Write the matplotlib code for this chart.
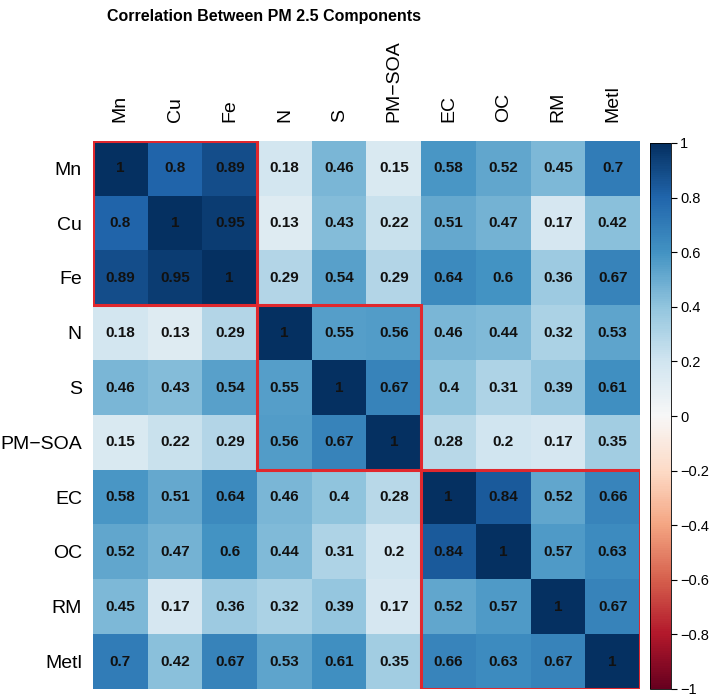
import numpy as np
import matplotlib
matplotlib.use("Agg")
import matplotlib.pyplot as plt
from matplotlib.patches import Rectangle

plt.rcParams['font.family'] = ['Liberation Sans', 'DejaVu Sans']

labels = ["Mn", "Cu", "Fe", "N", "S", "PM\u2212SOA", "EC", "OC", "RM", "Metl"]
corr = np.array([
    [1, 0.8, 0.89, 0.18, 0.46, 0.15, 0.58, 0.52, 0.45, 0.7],
    [0.8, 1, 0.95, 0.13, 0.43, 0.22, 0.51, 0.47, 0.17, 0.42],
    [0.89, 0.95, 1, 0.29, 0.54, 0.29, 0.64, 0.6, 0.36, 0.67],
    [0.18, 0.13, 0.29, 1, 0.55, 0.56, 0.46, 0.44, 0.32, 0.53],
    [0.46, 0.43, 0.54, 0.55, 1, 0.67, 0.4, 0.31, 0.39, 0.61],
    [0.15, 0.22, 0.29, 0.56, 0.67, 1, 0.28, 0.2, 0.17, 0.35],
    [0.58, 0.51, 0.64, 0.46, 0.4, 0.28, 1, 0.84, 0.52, 0.66],
    [0.52, 0.47, 0.6, 0.44, 0.31, 0.2, 0.84, 1, 0.57, 0.63],
    [0.45, 0.17, 0.36, 0.32, 0.39, 0.17, 0.52, 0.57, 1, 0.67],
    [0.7, 0.42, 0.67, 0.53, 0.61, 0.35, 0.66, 0.63, 0.67, 1],
])
clusters = [(0, 3), (3, 6), (6, 10)]
cbar_ticks = [-1, -0.8, -0.6, -0.4, -0.2, 0, 0.2, 0.4, 0.6, 0.8, 1]

W, H = 709, 699
fig = plt.figure(figsize=(W / 100, H / 100), dpi=100)
ax = fig.add_axes([93 / W, (H - 689) / H, (640 - 93) / W, (689 - 141) / H])
n = len(labels)
im = ax.imshow(corr, cmap="RdBu", vmin=-1, vmax=1, aspect="auto",
               extent=(-0.5, n - 0.5, n - 0.5, -0.5), interpolation="nearest")
for i in range(n):
    for j in range(n):
        v = corr[i, j]
        ax.text(j, i, f"{v:g}", ha="center", va="center", fontsize=11,
                fontweight="bold", color="#111111")
for a, b in clusters:
    ax.add_patch(Rectangle((a - 0.5, a - 0.5), b - a, b - a, fill=False,
                           edgecolor="#E0282E", linewidth=2.2, zorder=5))
ax.set_xticks(range(n))
ax.set_yticks(range(n))
ax.set_xticklabels(labels, rotation=90, fontsize=14)
ax.set_yticklabels(labels, fontsize=14)
ax.xaxis.tick_top()
ax.tick_params(axis="x", length=0, pad=13.5)
ax.tick_params(axis="y", length=0, pad=8)
for s in ax.spines.values():
    s.set_visible(False)
ax.set_xlim(-0.5, n - 0.5)
ax.set_ylim(n - 0.5, -0.5)

cax = fig.add_axes([650 / W, (H - 689) / H, 21 / W, (689 - 143) / H])
cb = fig.colorbar(im, cax=cax, ticks=cbar_ticks)
cb.ax.set_yticklabels([f"{t:g}".replace("-", "\u2212") for t in cbar_ticks])
cb.ax.tick_params(labelsize=10.5, length=4, width=0.8, pad=2.5)
cb.outline.set_linewidth(0.6)

fig.text(264 / W, 1 - 16 / H, "Correlation Between PM 2.5 Components", ha="center",
         va="center", fontsize=11.5, fontweight="bold")

fig.savefig("out.png", dpi=100)
